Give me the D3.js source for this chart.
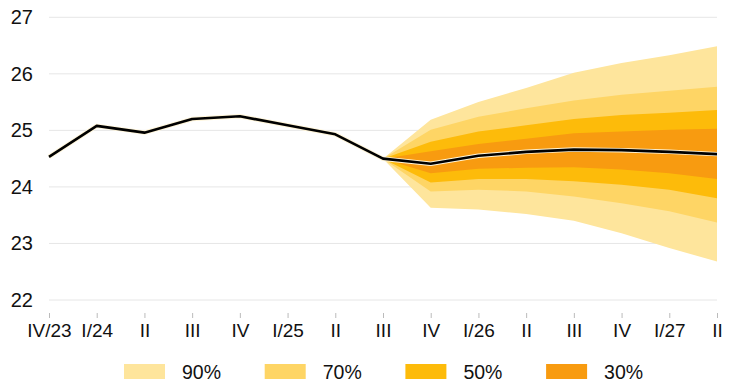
<!DOCTYPE html>
<html><head><meta charset="utf-8">
<script src="https://cdn.jsdelivr.net/npm/d3@7"></script>
<style>body{margin:0;background:#fff}svg{display:block;font-family:"Liberation Sans",Arial,sans-serif}</style>
</head><body><svg id="c" width="734" height="391"></svg>
<script>
const categories = ["IV/23","I/24","II","III","IV","I/25","II","III","IV","I/26","II","III","IV","I/27","II"];
const central = [24.53, 25.08, 24.96, 25.20, 25.25, 25.09, 24.93, 24.50, 24.41, 24.55, 24.62, 24.66, 24.65, 24.62, 24.58];
const fanStart = 7;
const upper90 = [24.50, 25.19, 25.50, 25.75, 26.02, 26.19, 26.33, 26.49];
const upper70 = [24.50, 25.01, 25.24, 25.39, 25.53, 25.63, 25.70, 25.77];
const upper50 = [24.50, 24.80, 24.98, 25.09, 25.20, 25.27, 25.31, 25.36];
const upper30 = [24.50, 24.63, 24.76, 24.85, 24.95, 24.98, 25.01, 25.03];
const lower30 = [24.50, 24.24, 24.32, 24.34, 24.35, 24.31, 24.24, 24.14];
const lower50 = [24.50, 24.08, 24.14, 24.14, 24.10, 24.04, 23.95, 23.80];
const lower70 = [24.50, 23.92, 23.95, 23.92, 23.83, 23.71, 23.57, 23.37];
const lower90 = [24.50, 23.63, 23.60, 23.52, 23.40, 23.18, 22.92, 22.68];
const yTicks = [22, 23, 24, 25, 26, 27];
const bandLabels = ["90%", "70%", "50%", "30%"];
const bandColors = ["#fee59c", "#fed565", "#fdbb0a", "#f89b10"];

const svg = d3.select("#c");
const x = d3.scaleLinear().domain([0, categories.length - 1]).range([49, 717]);
const y = d3.scaleLinear().domain([22, 27]).range([300, 17.3]);

// grid
svg.append("g").selectAll("line").data(yTicks).join("line")
  .attr("x1", 49).attr("x2", 717)
  .attr("y1", d => y(d)).attr("y2", d => y(d))
  .attr("stroke", "#e6e6e6").attr("stroke-width", 1);

// y labels
svg.append("g").selectAll("text").data(yTicks).join("text")
  .attr("x", 33).attr("y", d => y(d)).attr("dy", "0.35em")
  .attr("text-anchor", "end").attr("font-size", 20).attr("fill", "#111")
  .text(d => d);

// x axis
const xAxis = d3.axisBottom(x).tickValues(d3.range(categories.length))
  .tickFormat(i => categories[i]).tickSize(5).tickPadding(6);
const gx = svg.append("g").attr("transform", "translate(0,313)").call(xAxis);
gx.select(".domain").remove();
gx.selectAll(".tick line").attr("stroke", "#bbb");
gx.selectAll(".tick text").attr("font-size", 19).attr("fill", "#111")
  .attr("font-family", "Liberation Sans, Arial, sans-serif");

// fan bands
const bands = [[upper90, lower90], [upper70, lower70], [upper50, lower50], [upper30, lower30]];
bands.forEach((b, k) => {
  const pts = b[0].map((u, i) => ({i: fanStart + i, u: u, l: b[1][i]}));
  const area = d3.area().x(d => x(d.i)).y0(d => y(d.l)).y1(d => y(d.u));
  svg.append("path").datum(pts).attr("d", area).attr("fill", bandColors[k]);
});

// central line
const line = d3.line().x((d, i) => x(i)).y(d => y(d));
svg.append("path").datum(central).attr("d", line)
  .attr("fill", "none").attr("stroke", "#fff5d8").attr("stroke-width", 4.5).attr("stroke-linejoin", "round");
svg.append("path").datum(central).attr("d", line)
  .attr("fill", "none").attr("stroke", "#000").attr("stroke-width", 2.6).attr("stroke-linejoin", "round");

// legend
const lg = svg.append("g").selectAll("g").data(bandLabels).join("g")
  .attr("transform", (d, i) => `translate(${124 + i * 140.7},364)`);
lg.append("rect").attr("width", 41).attr("height", 15).attr("fill", (d, i) => bandColors[i]);
lg.append("text").attr("x", 58).attr("y", 15).attr("font-size", 19.5).attr("fill", "#111").text(d => d);
</script></body></html>
